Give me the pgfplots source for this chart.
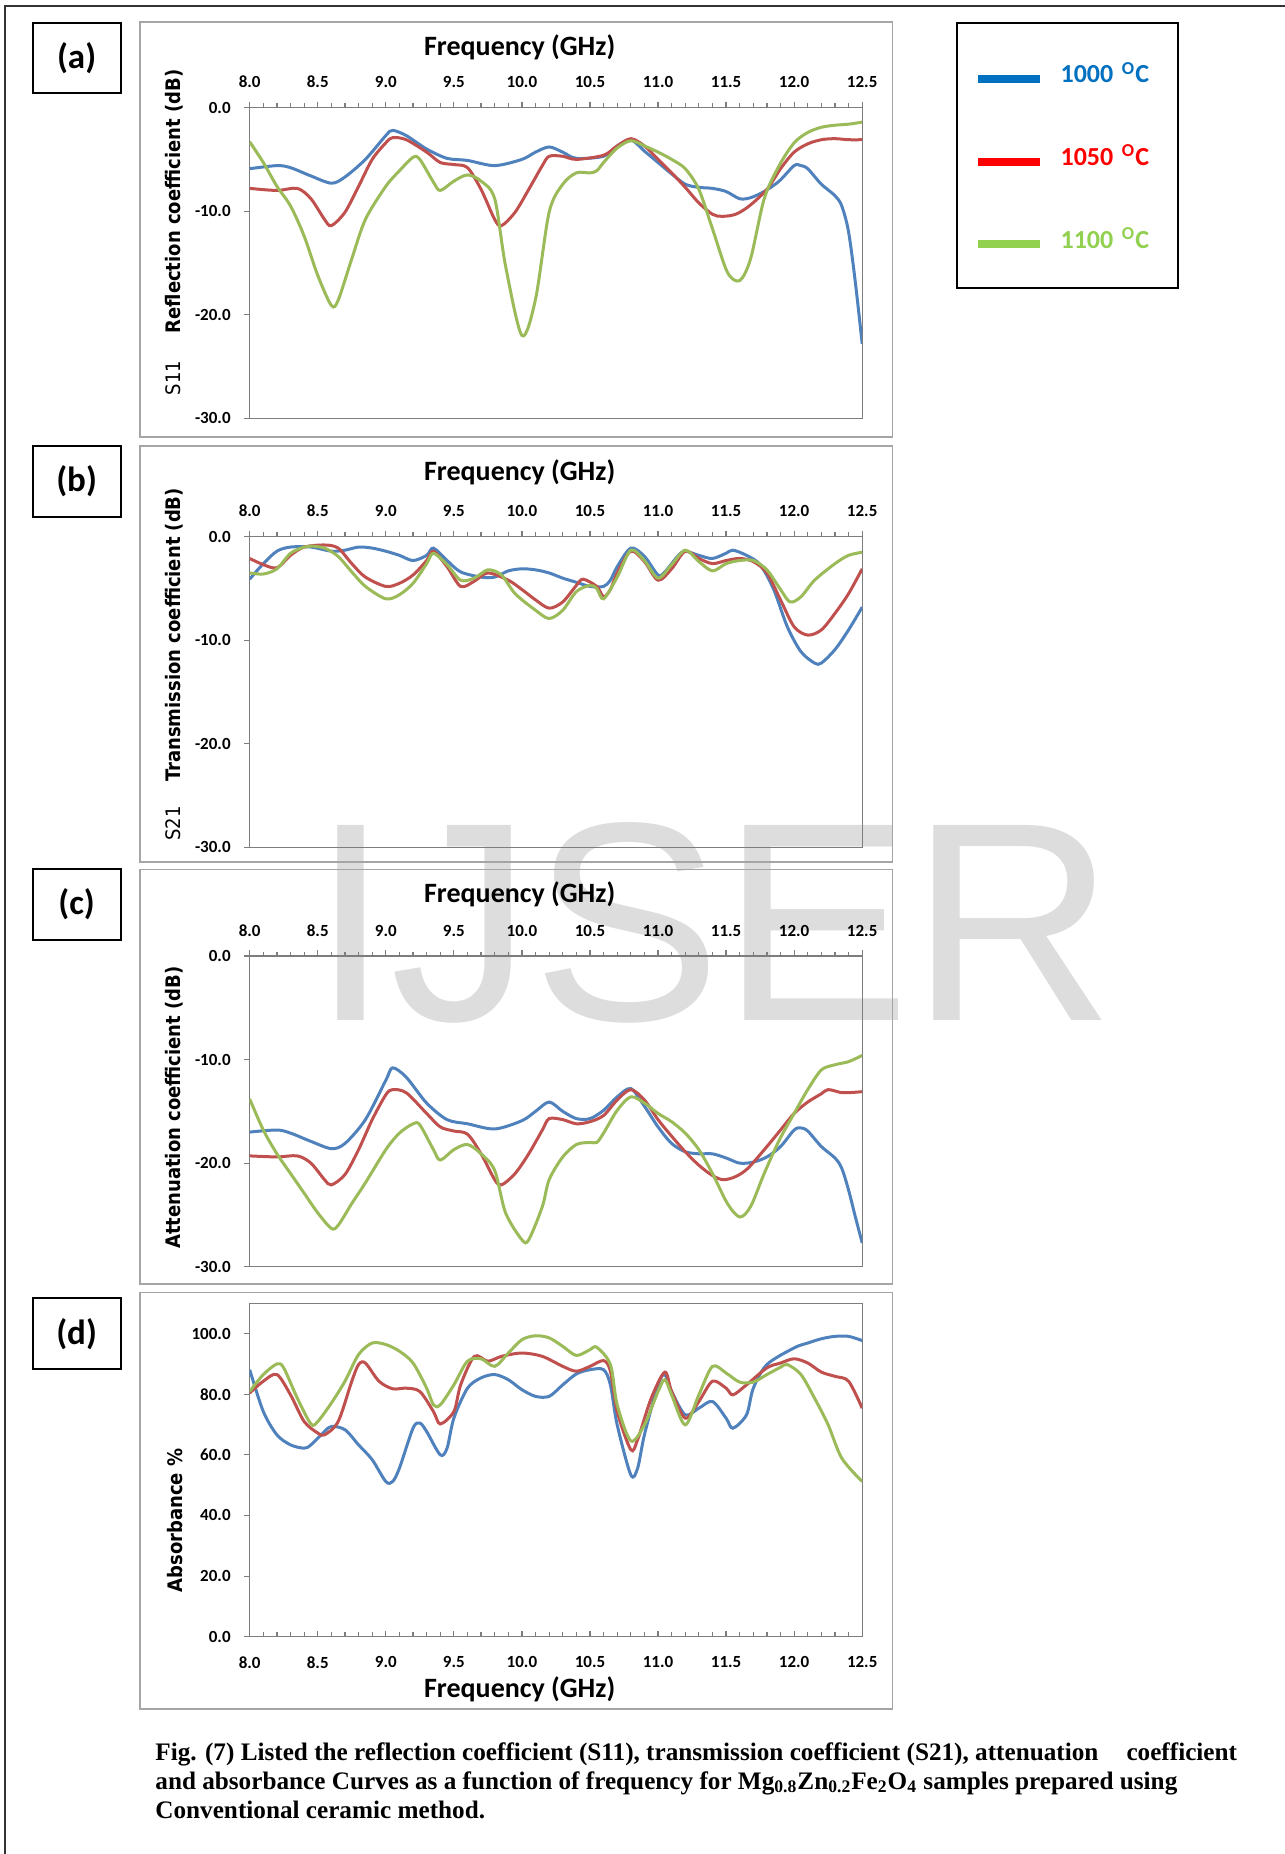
\documentclass[border=0pt]{standalone}
\usepackage{fontspec}
\setmainfont{Carlito}
\newfontfamily\dvfont[FakeStretch=0.9]{DejaVu Sans}
\newfontfamily\capfont{Liberation Serif}
\newfontfamily\wmfont{Liberation Sans}
\usepackage{pgfplots}
\pgfplotsset{compat=1.18}
\definecolor{s1}{RGB}{79,129,189}
\definecolor{s2}{RGB}{192,80,77}
\definecolor{s3}{RGB}{155,187,89}
\definecolor{l1}{RGB}{0,112,192}
\definecolor{l2}{RGB}{255,0,0}
\definecolor{l3}{RGB}{146,208,80}
\definecolor{axg}{RGB}{125,125,125}
\definecolor{boxg}{RGB}{165,165,165}
\definecolor{wmg}{RGB}{221,221,221}
\pgfplotsset{
  panel/.style={
    scale only axis, width=306.25pt,
    xmin=8, xmax=12.5,
    xtick={8,8.5,9,9.5,10,10.5,11,11.5,12,12.5},
    minor x tick num=4,
    axis line style={color=axg, line width=0.6pt},
    every tick/.style={color=axg, line width=0.6pt},
    major tick length=3pt, minor tick length=2.2pt,
    ytick pos=left,
    ticklabel style={font=\fontsize{8.5}{10}\selectfont\bfseries},
    /pgf/number format/fixed, /pgf/number format/fixed zerofill,
    /pgf/number format/precision=1, /pgf/number format/assume math mode=true,
    every axis plot/.append style={smooth, tension=0.5, line width=1.5pt, no markers},
  },
  dbpanel/.style={panel, height=155.35pt, ymin=-30, ymax=0, ytick={-30,-20,-10,0},
    tick align=outside, xtick pos=right, xticklabel pos=right,
    xticklabel shift=3.4pt, yticklabel shift=3pt},
}
\begin{document}
\begin{tikzpicture}
\path[use as bounding box] (0,0) rectangle (642.5pt,-927pt);
\begin{scope}[x=0.5pt,y=-0.5pt]
  % watermark
  \node[anchor=base west, inner sep=0pt, text=wmg, font=\wmfont\fontsize{141.8}{142}\selectfont] at (311,1020) {IJSER};
  % page frame
  \draw[line width=1pt, black!80] (1285,6) -- (5,6) -- (5,1854);
  % chart areas
  \draw[boxg, line width=0.8pt] (140,22) rectangle (892.6,436.7);
  \draw[boxg, line width=0.8pt] (140,446) rectangle (892.6,861.7);
  \draw[boxg, line width=0.8pt] (140,869.3) rectangle (892.6,1284);
  \draw[boxg, line width=0.8pt] (140,1292.3) rectangle (892.6,1709);
  % panel label boxes
  \draw[black, line width=1pt] (32.7,22.7) rectangle (120.5,92.7);
  \draw[black, line width=1pt] (32.7,446) rectangle (120.5,517.3);
  \draw[black, line width=1pt] (32.7,869.3) rectangle (120.5,940);
  \draw[black, line width=1pt] (32.7,1298.3) rectangle (120.5,1369.3);
  \begin{scope}[every node/.style={font=\fontsize{17.5}{20}\selectfont\bfseries}]
    \node at (76.6,57.7) {(a)};
    \node at (76.6,481.6) {(b)};
    \node at (76.6,904.6) {(c)};
    \node at (76.6,1333.8) {(d)};
  \end{scope}
  % titles
  \begin{scope}[every node/.style={anchor=base, inner sep=0pt, font=\fontsize{14}{16}\selectfont\bfseries}]
    \node at (519.7,55) {Frequency (GHz)};
    \node at (519.7,480) {Frequency (GHz)};
    \node at (519.7,902) {Frequency (GHz)};
    \node at (519.7,1697) {Frequency (GHz)};
  \end{scope}
  % y labels
  \begin{scope}[every node/.style={rotate=90, anchor=base, inner sep=0pt}]
    \node[font=\dvfont\fontsize{10}{12}\bfseries\selectfont] at (180.7,201.5) {Reflection coefficient (dB)};
    \node[font=\dvfont\fontsize{10}{12}\selectfont] at (180.7,378) {S11};
    \node[font=\dvfont\fontsize{10}{12}\bfseries\selectfont] at (180.7,635) {Transmission coefficient (dB)};
    \node[font=\dvfont\fontsize{10}{12}\selectfont] at (180.7,823.5) {S21};
    \node[font=\dvfont\fontsize{10}{12}\bfseries\selectfont] at (180.7,1107.5) {Attenuation coefficient (dB)};
    \node[font=\dvfont\fontsize{10}{12}\bfseries\selectfont] at (182,1520.5) {Absorbance \%};
  \end{scope}
  % caption
  \begin{scope}[every node/.style={anchor=base west, inner sep=0pt, font=\capfont\bfseries\fontsize{12.6}{14}\selectfont}]
    \node at (155,1760) {\makebox[540.8pt][s]{Fig. (7) Listed the reflection coefficient (S11), transmission coefficient (S21), attenuation\hspace{0pt plus 1fil} coefficient}};
    \node at (155,1789) {and absorbance Curves as a function of frequency for Mg\textsubscript{0.8}Zn\textsubscript{0.2}Fe\textsubscript{2}O\textsubscript{4} samples prepared using};
    \node at (155,1818) {Conventional ceramic method.};
  \end{scope}
\end{scope}

% ---------- (a) ----------
\begin{axis}[dbpanel, at={(124.85pt,-53.8pt)}, anchor=north west,
  legend style={at={(1.1531,1.2754)}, anchor=north west, draw=black, line width=1pt,
    inner xsep=8.6pt, inner ysep=19.9pt, row sep=31.1pt, column sep=8.5pt,
    font=\fontsize{13}{14}\selectfont\bfseries,
    nodes={inner sep=0pt, text height=10pt, text depth=0pt, text width=50pt, align=left}},
  legend cell align=left,
  legend image code/.code={\draw[#1, line width=4pt] (0pt,-3.2pt) -- (30.7pt,-3.2pt);},
  legend entries={\textcolor{l1}{1000 \textsuperscript{O}C},\textcolor{l2}{1050 \textsuperscript{O}C},\textcolor{l3}{1100 \textsuperscript{O}C}}]
\addlegendimage{l1}
\addlegendimage{l2}
\addlegendimage{l3}
\addplot[s1] coordinates {(8.0,-5.9)(8.2,-5.6)(8.3,-5.8)(8.45,-6.6)(8.6,-7.3)(8.7,-6.7)(8.85,-5.0)(9.0,-2.7)(9.05,-2.2)(9.15,-2.7)(9.3,-4.0)(9.45,-4.9)(9.6,-5.1)(9.8,-5.6)(10.0,-5.0)(10.1,-4.3)(10.2,-3.8)(10.3,-4.3)(10.4,-4.9)(10.6,-4.7)(10.7,-3.7)(10.8,-3.1)(10.9,-4.2)(11.0,-5.3)(11.1,-6.4)(11.2,-7.4)(11.3,-7.7)(11.4,-7.8)(11.5,-8.1)(11.6,-8.8)(11.68,-8.7)(11.78,-8.1)(11.89,-7.1)(12.0,-5.6)(12.05,-5.6)(12.1,-5.9)(12.2,-7.4)(12.3,-8.5)(12.35,-9.5)(12.4,-12)(12.45,-16.9)(12.5,-22.8)};
\addplot[s2] coordinates {(8.0,-7.8)(8.2,-8.0)(8.35,-7.8)(8.45,-8.8)(8.55,-10.8)(8.6,-11.4)(8.7,-10.1)(8.8,-7.6)(8.9,-5.0)(9.0,-3.4)(9.05,-2.9)(9.15,-3.1)(9.3,-4.3)(9.4,-5.3)(9.5,-5.5)(9.6,-5.8)(9.7,-7.9)(9.8,-10.8)(9.85,-11.4)(9.95,-10.1)(10.05,-7.9)(10.15,-5.6)(10.2,-4.7)(10.3,-4.7)(10.4,-5.0)(10.6,-4.6)(10.7,-3.7)(10.8,-3.0)(10.9,-3.7)(11.0,-5.0)(11.1,-6.3)(11.2,-7.7)(11.3,-9.2)(11.4,-10.3)(11.47,-10.5)(11.57,-10.3)(11.67,-9.5)(11.8,-7.9)(11.9,-5.9)(12.0,-4.3)(12.1,-3.5)(12.2,-3.1)(12.3,-3.0)(12.4,-3.1)(12.5,-3.1)};
\addplot[s3] coordinates {(8.0,-3.3)(8.1,-5.3)(8.2,-7.6)(8.3,-9.5)(8.4,-12.4)(8.5,-16.2)(8.6,-19.1)(8.65,-18.6)(8.75,-14.6)(8.85,-10.8)(9.0,-7.6)(9.1,-6.1)(9.2,-4.8)(9.25,-5.0)(9.35,-7.2)(9.4,-8.0)(9.5,-7.1)(9.6,-6.5)(9.7,-7.1)(9.8,-8.8)(9.88,-15.3)(10.0,-22.0)(10.1,-18.5)(10.2,-10.1)(10.3,-7.4)(10.4,-6.3)(10.5,-6.3)(10.55,-6.1)(10.6,-5.3)(10.7,-3.9)(10.8,-3.2)(10.9,-3.7)(11.0,-4.3)(11.1,-5.0)(11.2,-5.9)(11.3,-7.9)(11.4,-11.7)(11.51,-15.9)(11.6,-16.7)(11.68,-14.6)(11.78,-8.8)(11.89,-5.6)(12.0,-3.4)(12.1,-2.4)(12.2,-1.9)(12.3,-1.7)(12.4,-1.6)(12.5,-1.4)};
\end{axis}

% ---------- (b) ----------
\begin{axis}[dbpanel, at={(124.85pt,-268.35pt)}, anchor=north west]
\addplot[s1] coordinates {(8.0,-4.1)(8.1,-2.6)(8.2,-1.4)(8.3,-1.0)(8.45,-1.0)(8.6,-1.4)(8.7,-1.3)(8.8,-1.0)(8.9,-1.1)(9.0,-1.4)(9.1,-1.8)(9.2,-2.3)(9.3,-1.8)(9.35,-1.1)(9.45,-2.3)(9.55,-3.4)(9.7,-3.9)(9.8,-3.9)(9.9,-3.3)(10.0,-3.1)(10.1,-3.2)(10.2,-3.5)(10.3,-4.0)(10.4,-4.4)(10.5,-4.8)(10.6,-4.8)(10.65,-4.2)(10.7,-2.9)(10.8,-1.1)(10.9,-1.9)(11.0,-3.7)(11.05,-3.4)(11.15,-1.8)(11.2,-1.4)(11.3,-1.8)(11.4,-2.1)(11.5,-1.6)(11.55,-1.3)(11.65,-1.8)(11.75,-2.7)(11.85,-5.1)(11.95,-8.7)(12.05,-11.1)(12.15,-12.2)(12.2,-12.2)(12.3,-10.9)(12.4,-9.0)(12.5,-6.8)};
\addplot[s2] coordinates {(8.0,-2.1)(8.1,-2.7)(8.2,-3.0)(8.3,-1.8)(8.4,-1.0)(8.55,-0.8)(8.65,-1.1)(8.75,-2.6)(8.85,-3.9)(9.0,-4.8)(9.1,-4.5)(9.2,-3.7)(9.3,-2.3)(9.35,-1.4)(9.45,-2.9)(9.55,-4.8)(9.65,-4.3)(9.75,-3.5)(9.9,-4.2)(10.0,-5.1)(10.1,-6.1)(10.2,-6.9)(10.3,-6.3)(10.4,-4.7)(10.45,-4.1)(10.55,-4.8)(10.6,-5.8)(10.65,-5.1)(10.7,-3.5)(10.8,-1.4)(10.9,-2.4)(11.0,-4.2)(11.1,-3.1)(11.2,-1.4)(11.3,-2.1)(11.4,-2.6)(11.5,-2.3)(11.6,-2.1)(11.7,-2.4)(11.8,-3.5)(11.9,-6.1)(12.0,-8.7)(12.1,-9.5)(12.2,-9.0)(12.3,-7.4)(12.4,-5.5)(12.5,-3.1)};
\addplot[s3] coordinates {(8.0,-3.5)(8.1,-3.6)(8.2,-3.1)(8.3,-1.6)(8.4,-1.0)(8.45,-0.9)(8.55,-1.1)(8.65,-1.9)(8.75,-3.4)(8.85,-4.8)(9.0,-6.0)(9.1,-5.6)(9.2,-4.5)(9.3,-2.6)(9.35,-1.6)(9.45,-2.7)(9.55,-4.2)(9.65,-4.0)(9.75,-3.2)(9.85,-3.7)(9.95,-5.5)(10.1,-7.1)(10.2,-7.9)(10.3,-7.1)(10.4,-5.3)(10.5,-4.7)(10.55,-5.0)(10.6,-6.0)(10.7,-3.9)(10.8,-1.3)(10.9,-2.3)(11.0,-4.0)(11.1,-2.7)(11.2,-1.3)(11.3,-2.4)(11.4,-3.3)(11.5,-2.6)(11.6,-2.3)(11.7,-2.3)(11.8,-3.2)(11.9,-5.1)(11.97,-6.3)(12.05,-5.8)(12.15,-4.2)(12.3,-2.6)(12.4,-1.8)(12.5,-1.5)};
\end{axis}

% ---------- (c) ----------
\begin{axis}[dbpanel, at={(124.85pt,-478pt)}, anchor=north west]
\addplot[s1] coordinates {(8.0,-17.0)(8.2,-16.8)(8.3,-17.1)(8.45,-17.9)(8.6,-18.6)(8.7,-18.1)(8.85,-15.8)(9.0,-12.0)(9.05,-10.8)(9.15,-11.7)(9.3,-14.2)(9.45,-15.8)(9.6,-16.2)(9.8,-16.7)(10.0,-15.9)(10.1,-15.0)(10.2,-14.1)(10.3,-15.0)(10.4,-15.7)(10.5,-15.7)(10.6,-14.9)(10.7,-13.6)(10.8,-12.8)(10.9,-14.5)(11.0,-16.5)(11.1,-18.1)(11.2,-18.9)(11.3,-19.1)(11.4,-19.1)(11.5,-19.5)(11.6,-20.0)(11.7,-19.9)(11.8,-19.4)(11.9,-18.4)(12.0,-16.8)(12.05,-16.6)(12.1,-16.9)(12.2,-18.4)(12.3,-19.5)(12.35,-20.5)(12.4,-22.6)(12.45,-25.2)(12.5,-27.7)};
\addplot[s2] coordinates {(8.0,-19.3)(8.2,-19.4)(8.35,-19.3)(8.45,-20.0)(8.55,-21.6)(8.6,-22.1)(8.7,-21.1)(8.8,-18.7)(8.9,-15.8)(9.0,-13.4)(9.05,-12.9)(9.15,-13.2)(9.3,-15.2)(9.4,-16.5)(9.5,-16.9)(9.6,-17.2)(9.7,-19.1)(9.8,-21.6)(9.85,-22.1)(9.95,-21.0)(10.05,-19.1)(10.15,-16.8)(10.2,-15.7)(10.3,-15.8)(10.4,-16.2)(10.5,-16.0)(10.6,-15.4)(10.7,-13.9)(10.8,-12.9)(10.9,-13.9)(11.0,-15.8)(11.1,-17.4)(11.2,-18.9)(11.3,-20.2)(11.4,-21.2)(11.48,-21.6)(11.57,-21.3)(11.66,-20.5)(11.8,-18.4)(11.9,-16.8)(12.0,-15.2)(12.1,-14.1)(12.2,-13.3)(12.25,-12.9)(12.35,-13.2)(12.4,-13.2)(12.5,-13.1)};
\addplot[s3] coordinates {(8.0,-13.8)(8.1,-16.8)(8.2,-19.1)(8.3,-21.0)(8.4,-22.9)(8.5,-24.8)(8.6,-26.3)(8.65,-26.0)(8.75,-23.9)(8.85,-21.9)(9.0,-18.7)(9.1,-17.1)(9.2,-16.2)(9.25,-16.3)(9.35,-18.7)(9.4,-19.7)(9.5,-18.7)(9.6,-18.2)(9.7,-19.1)(9.8,-20.7)(9.88,-24.8)(10.0,-27.4)(10.05,-27.4)(10.15,-24.2)(10.2,-21.6)(10.3,-19.4)(10.4,-18.2)(10.5,-18.0)(10.55,-18.0)(10.6,-17.1)(10.7,-14.9)(10.8,-13.6)(10.9,-14.2)(11.0,-15.2)(11.1,-16.0)(11.2,-17.1)(11.3,-18.7)(11.4,-21.0)(11.51,-23.9)(11.6,-25.2)(11.68,-24.2)(11.78,-21.0)(11.89,-17.8)(12.0,-15.2)(12.1,-12.9)(12.2,-11.0)(12.3,-10.5)(12.4,-10.2)(12.5,-9.6)};
\end{axis}

% ---------- (d) ----------
\begin{axis}[panel, at={(124.85pt,-651.65pt)}, anchor=north west, height=166.7pt,
  ymin=0, ymax=110, ytick={0,20,40,60,80,100},
  tick align=inside, xtick pos=left, xticklabel pos=left,
  every major y tick/.append style={xshift=-3pt},
  xticklabel shift=6.3pt, yticklabel shift=6pt]
\addplot[s1] coordinates {(8.0,88.1)(8.1,74.3)(8.2,66.6)(8.3,63.3)(8.4,62.2)(8.45,63.3)(8.55,67.7)(8.6,69.4)(8.7,68.3)(8.8,63.3)(8.9,58.4)(9.0,51.2)(9.05,51.2)(9.1,55.6)(9.2,68.8)(9.25,70.5)(9.3,67.7)(9.4,60.0)(9.45,62.2)(9.5,72.1)(9.6,82.0)(9.7,85.4)(9.8,86.5)(9.9,84.8)(10.0,81.5)(10.1,79.3)(10.2,79.3)(10.3,83.1)(10.4,86.7)(10.5,88.1)(10.6,88.1)(10.65,83.1)(10.7,69.9)(10.8,53.4)(10.85,55.6)(10.9,66.6)(11.0,83.1)(11.05,86.5)(11.1,80.9)(11.2,73.2)(11.3,75.4)(11.4,77.6)(11.5,72.1)(11.55,68.8)(11.65,73.2)(11.7,82.0)(11.8,89.8)(12.0,95.3)(12.1,96.9)(12.2,98.3)(12.3,99.1)(12.4,99.1)(12.5,97.7)};
\addplot[s2] coordinates {(8.0,80.4)(8.1,84.3)(8.2,86.5)(8.3,79.8)(8.4,71.0)(8.5,67.2)(8.55,66.6)(8.65,71.0)(8.75,84.3)(8.8,89.8)(8.85,90.3)(8.95,84.3)(9.05,81.8)(9.15,82.0)(9.25,80.9)(9.35,74.3)(9.4,70.2)(9.5,74.3)(9.55,83.1)(9.65,92.5)(9.75,90.9)(9.85,92.5)(10.0,93.6)(10.15,92.5)(10.3,89.2)(10.4,87.6)(10.5,89.2)(10.6,91.1)(10.65,87.6)(10.7,74.3)(10.8,61.7)(10.85,65.0)(10.95,78.7)(11.05,87.3)(11.1,80.9)(11.2,72.1)(11.3,77.6)(11.4,84.3)(11.5,82.0)(11.55,79.8)(11.65,83.1)(11.8,88.7)(11.9,90.3)(12.0,91.7)(12.1,90.3)(12.2,87.3)(12.3,85.9)(12.4,84.3)(12.5,75.4)};
\addplot[s3] coordinates {(8.0,80.9)(8.1,86.5)(8.2,90.0)(8.25,88.7)(8.35,78.7)(8.45,70.2)(8.5,71.0)(8.6,77.1)(8.7,84.3)(8.8,93.1)(8.9,96.9)(9.0,96.4)(9.1,94.2)(9.2,90.3)(9.3,82.0)(9.35,76.5)(9.4,76.5)(9.5,83.1)(9.6,90.9)(9.7,91.7)(9.8,89.2)(9.9,93.6)(10.0,98.0)(10.1,99.3)(10.2,98.6)(10.3,95.8)(10.4,92.8)(10.5,94.7)(10.55,95.5)(10.65,89.8)(10.7,76.5)(10.8,64.6)(10.9,69.9)(11.0,80.9)(11.05,84.8)(11.1,79.8)(11.2,69.9)(11.3,79.8)(11.4,89.2)(11.5,87.0)(11.6,84.0)(11.7,84.0)(11.8,86.5)(11.9,88.9)(11.95,89.8)(12.05,86.5)(12.15,78.7)(12.25,69.9)(12.35,58.9)(12.5,51.2)};
\end{axis}
\end{tikzpicture}
\end{document}
